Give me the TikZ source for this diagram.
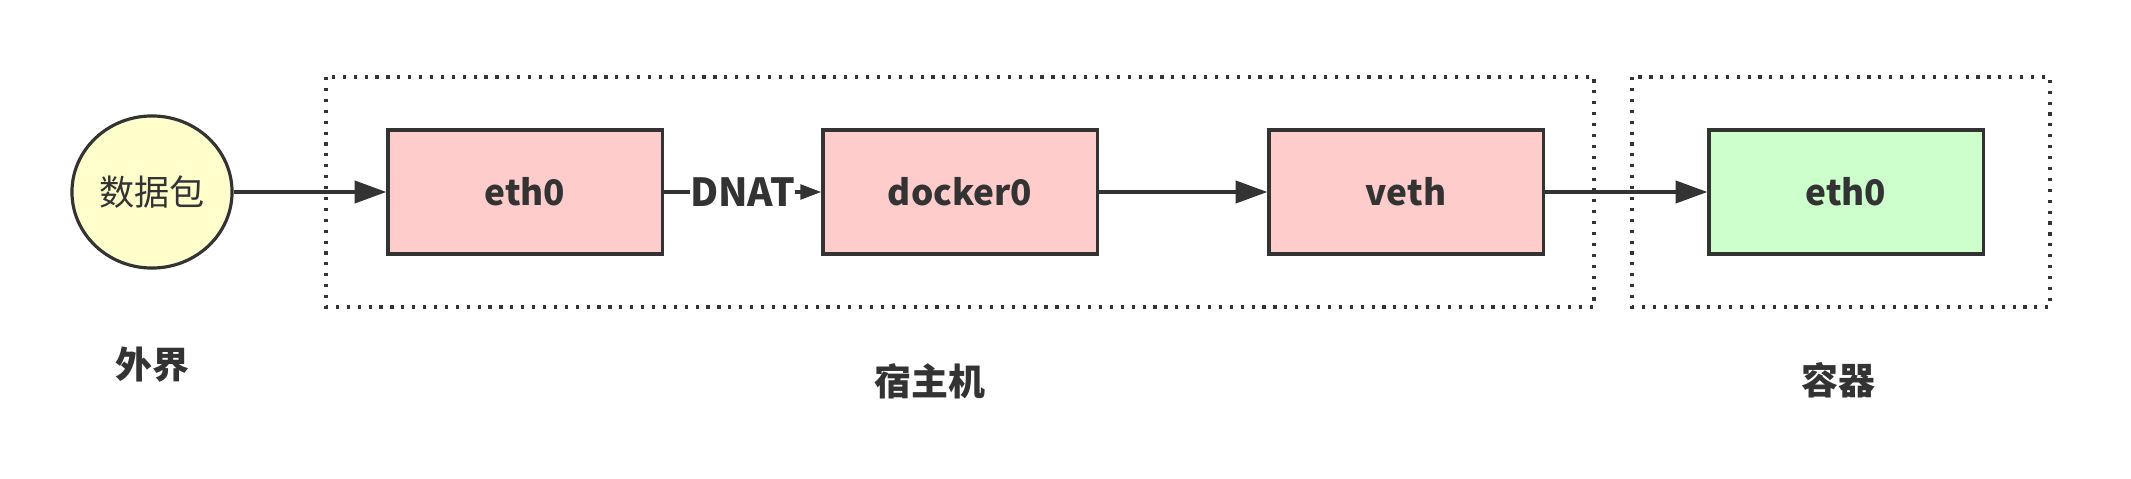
\documentclass[tikz,border=0pt]{standalone}
\usepackage{fontspec}
\setmainfont{Noto Sans CJK SC}
\usepackage{tikz}
\usetikzlibrary{arrows.meta}
\usetikzlibrary{shapes.geometric}
\definecolor{darkline}{HTML}{333333}
\definecolor{pinkfill}{HTML}{FFCCCC}
\definecolor{greenfill}{HTML}{CCFFCC}
\definecolor{yellowfill}{HTML}{FFFFCC}

\begin{document}
\begin{tikzpicture}[x=0.01cm,y=-0.01cm,
    every node/.style={text=darkline},
    iface/.style={draw=darkline,line width=0.9pt,minimum width=2.74cm,minimum height=1.24cm,
      font=\bfseries\fontsize{10}{12}\selectfont},
    group/.style={draw=darkline,line width=0.9pt,dash pattern=on 0.9pt off 2.2pt},
    flow/.style={draw=darkline,line width=1pt,-{Triangle[length=9pt,width=6.3pt]}},
    caption/.style={font=\bfseries\fontsize{10.5}{12}\selectfont}]
    \useasboundingbox (0,0) rectangle (2131,479);
    \draw[group] (326,77) rectangle (1594,307);
    \draw[group] (1632,77) rectangle (2050,307);
    \node[ellipse,draw=darkline,line width=0.9pt,fill=yellowfill,minimum width=1.6cm,
      minimum height=1.52cm,inner sep=0pt,font=\fontsize{10}{12}\selectfont] (packet) at (152,192) {数据包};
    \foreach \name/\x/\col/\txt in {eth/525/pinkfill/eth0,docker/960/pinkfill/docker0,
      veth/1406/pinkfill/veth,ceth/1846/greenfill/eth0}
    {
      \node[iface,fill=\col] (\name) at (\x,192) {\txt};
    }
    \draw[flow] (packet) -- (eth);
    \draw[flow,-{Triangle[length=6pt,width=4.2pt]}] (eth) -- node[fill=white,inner sep=0pt,
      font=\bfseries\fontsize{11}{12}\selectfont] (dnat) {DNAT} (docker);
    \draw[flow] (docker) -- (veth);
    \draw[flow] (veth) -- (ceth);
    \node[caption] (outside) at (152,365) {外界};
    \node[caption] (host) at (930,381) {宿主机};
    \node[caption] (container) at (1838,380) {容器};
  \end{tikzpicture}
\end{document}
